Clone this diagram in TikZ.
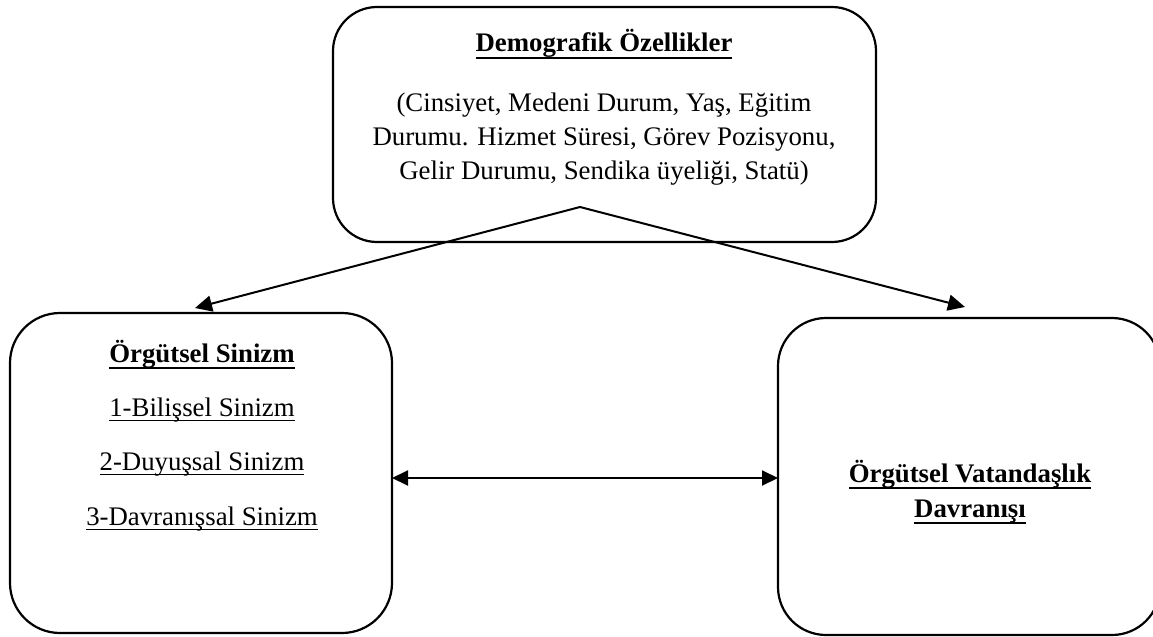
\documentclass[tikz,border=0pt]{standalone}
\usepackage{fontspec}
\setmainfont{Liberation Serif}
\usetikzlibrary{arrows.meta}
\newcommand\ulb[1]{\leavevmode\setbox0\hbox{#1}\rlap{\rule[-3.6pt]{\wd0}{1.2pt}}\box0}
\newcommand\ulr[1]{\leavevmode\setbox0\hbox{#1}\rlap{\rule[-2.6pt]{\wd0}{0.8pt}}\box0}
\begin{document}
\begin{tikzpicture}[x=0.5pt,y=-0.5pt,
  box/.style={draw, line width=1.1pt, inner sep=0pt, outer sep=0pt},
  txt/.style={font=\fontsize{13.4}{16.75}\selectfont, inner sep=0pt, anchor=base},
  btxt/.style={txt, font=\fontsize{13.4}{16.75}\selectfont\bfseries},
  arr/.style={line width=1pt, -{Triangle[length=8.5pt,width=8pt]}},
  arrb/.style={line width=1pt, {Triangle[length=8pt,width=7.5pt]}-{Triangle[length=8pt,width=7.5pt]}}
]
\useasboundingbox (0,0) rectangle (1153,637);

% boxes
\node[box, rounded corners=22pt, minimum width=271.5pt, minimum height=117.5pt] (demo) at (604.5,124.5) {};
\node[box, rounded corners=25pt, minimum width=191pt, minimum height=160pt] (lbox) at (201,473) {};
\node[box, rounded corners=24pt, minimum width=191pt, minimum height=158.5pt] (rbox) at (969,476.5) {};

% top box text
\node[btxt] (t0) at (604,52) {\ulb{Demografik Özellikler}};
\node[txt] (t1) at (604,112) {(Cinsiyet, Medeni Durum, Yaş, Eğitim};
\node[txt] (t2) at (604,145) {Durumu. Hizmet Süresi, Görev Pozisyonu,};
\node[txt] (t3) at (604,179) {Gelir Durumu, Sendika üyeliği, Statü)};

% left box text
\node[btxt] (l0) at (202,362) {\ulb{Örgütsel Sinizm}};
\node[txt] (l1) at (202,416) {\ulr{1-Bilişsel Sinizm}};
\node[txt] (l2) at (202,470) {\ulr{2-Duyuşsal Sinizm}};
\node[txt] (l3) at (202,525) {\ulr{3-Davranışsal Sinizm}};

% right box text
\node[btxt] (r0) at (970,482) {\ulb{Örgütsel Vatandaşlık}};
\node[btxt] (r1) at (970,517) {\ulb{Davranışı}};

% connectors
\coordinate (apex) at (580,207);
\draw[arr] (apex) -- ([xshift=-3pt,yshift=2.5pt]lbox.north);
\draw[arr] (apex) -- ([xshift=-2pt,yshift=5.5pt]rbox.north);
\draw[arrb] ([yshift=-2.5pt]lbox.east) -- ([yshift=-0.75pt]rbox.west);
\end{tikzpicture}
\end{document}
